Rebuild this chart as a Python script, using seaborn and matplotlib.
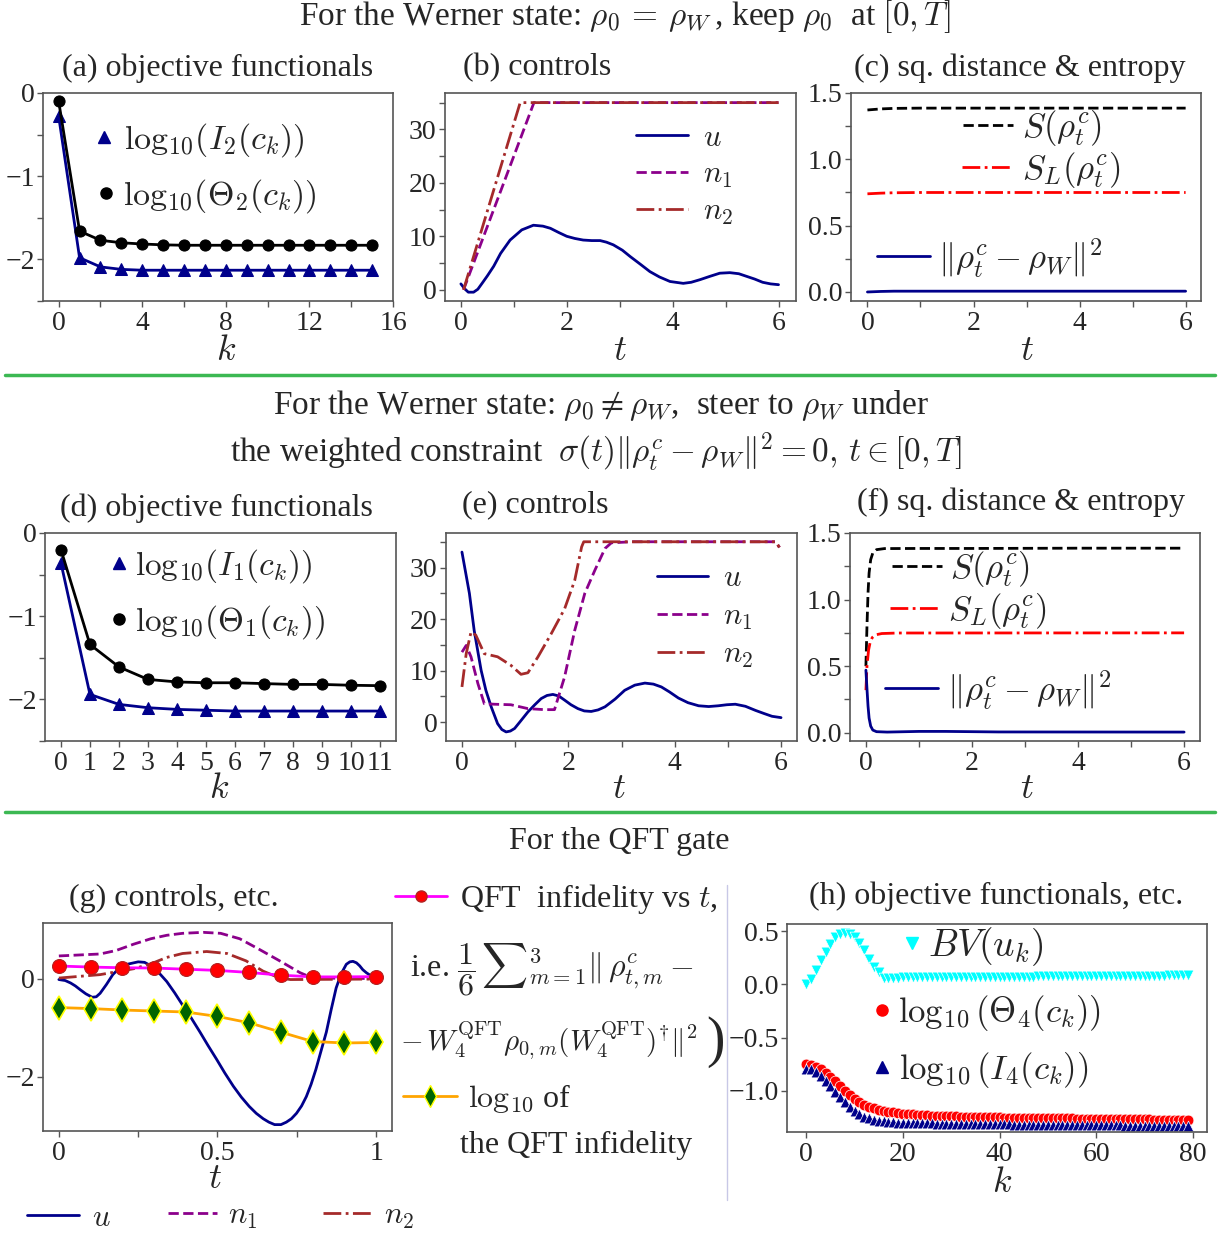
import numpy as np
import pandas as pd
import matplotlib
matplotlib.use('Agg')
import matplotlib.pyplot as plt
import seaborn as sns
from matplotlib.lines import Line2D
from matplotlib.legend import Legend
from matplotlib.ticker import FixedLocator

# ---------------- data ----------------
# (a)
k_a = list(range(16))
I2_a = [-0.28, -1.98, -2.09, -2.12, -2.13, -2.13, -2.13, -2.13, -2.13, -2.13, -2.13, -2.13, -2.13, -2.13, -2.13, -2.13]
Th2_a = [-0.10, -1.66, -1.77, -1.80, -1.815, -1.825, -1.83, -1.83, -1.83, -1.83, -1.83, -1.83, -1.83, -1.83, -1.83, -1.83]
# (b)
t_b_u = [0, 0.07, 0.14, 0.24, 0.32, 0.4, 0.5, 0.62, 0.75, 0.93, 1.15, 1.37, 1.55, 1.69, 1.85, 2.0, 2.15, 2.31, 2.47, 2.63, 2.75, 2.88, 3.05, 3.2, 3.4, 3.57, 3.75, 3.95, 4.2, 4.35, 4.52, 4.7, 4.89, 5.08, 5.25, 5.4, 5.55, 5.7, 5.85, 6.0]
u_b = [1.1, 0.2, -0.45, -0.45, 0.1, 1.2, 2.6, 4.4, 6.8, 9.3, 11.2, 12.07, 11.9, 11.5, 10.7, 10.0, 9.6, 9.3, 9.2, 9.2, 8.9, 8.4, 7.4, 6.2, 4.7, 3.4, 2.4, 1.55, 1.2, 1.4, 1.9, 2.5, 3.1, 3.2, 3.0, 2.5, 2.0, 1.4, 1.1, 0.95]
t_b_n1 = [0.05, 1.38, 6.0]
n1_b = [0.0, 35.0, 35.0]
t_b_n2 = [0.05, 1.12, 6.0]
n2_b = [0.0, 35.0, 35.0]
# (c)
t_c = [0, 0.25, 0.5, 1, 2, 3, 4, 5, 6]
S_c = [1.372, 1.38, 1.384, 1.386, 1.386, 1.386, 1.386, 1.386, 1.386]
SL_c = [0.74, 0.745, 0.748, 0.75, 0.75, 0.75, 0.75, 0.75, 0.75]
D_c = [0.0, 0.004, 0.006, 0.006, 0.006, 0.006, 0.006, 0.006, 0.006]
# (d)
k_d = list(range(12))
I1_d = [-0.36, -1.94, -2.06, -2.10, -2.12, -2.13, -2.14, -2.14, -2.14, -2.14, -2.14, -2.14]
Th1_d = [-0.20, -1.34, -1.61, -1.76, -1.79, -1.80, -1.80, -1.81, -1.82, -1.82, -1.83, -1.835]
# (e)
t_e_u = [0, 0.07, 0.14, 0.23, 0.36, 0.45, 0.55, 0.67, 0.75, 0.83, 0.91, 0.99, 1.1, 1.24, 1.37, 1.49, 1.6, 1.71, 1.82, 1.93, 2.05, 2.18, 2.3, 2.43, 2.56, 2.69, 2.88, 3.06, 3.25, 3.44, 3.6, 3.75, 3.9, 4.07, 4.25, 4.45, 4.64, 4.82, 4.98, 5.14, 5.33, 5.52, 5.68, 5.83, 6.0]
u_e = [33.0, 29.0, 25.0, 17.8, 10.1, 6.2, 3.0, -0.26, -1.4, -1.87, -1.7, -1.2, 0.2, 2.0, 3.4, 4.6, 5.2, 5.4, 5.1, 4.3, 3.4, 2.65, 2.2, 2.1, 2.4, 3.0, 4.5, 6.2, 7.2, 7.6, 7.4, 6.85, 5.9, 4.7, 3.8, 3.2, 3.05, 3.2, 3.4, 3.5, 3.1, 2.3, 1.7, 1.16, 0.9]
t_e_n1 = [0, 0.08, 0.17, 0.3, 0.42, 0.61, 0.92, 1.24, 1.55, 1.74, 1.93, 2.12, 2.31, 2.5, 2.69, 2.81, 3.2, 5.9, 5.97]
n1_e = [13.6, 14.9, 12.7, 7.5, 3.6, 3.5, 3.4, 2.65, 2.45, 2.45, 8.8, 17.8, 25.0, 29.5, 33.7, 34.8, 35.0, 35.0, 33.9]
t_e_n2 = [0, 0.08, 0.17, 0.26, 0.42, 0.67, 0.92, 1.11, 1.24, 1.43, 1.68, 1.93, 2.12, 2.25, 2.29, 5.9, 5.97]
n2_e = [6.85, 13.3, 17.5, 16.9, 13.3, 12.7, 11.05, 9.3, 9.6, 12.7, 17.2, 22.0, 27.5, 34.0, 35.0, 35.0, 33.9]
# (f)
t_f_S = [0, 0.02, 0.04, 0.06, 0.09, 0.13, 0.2, 0.35, 1.0, 2.0, 4.0, 6.0]
S_f = [0.50, 0.80, 1.05, 1.20, 1.30, 1.35, 1.375, 1.383, 1.384, 1.384, 1.386, 1.386]
t_f_SL = [0, 0.02, 0.05, 0.08, 0.12, 0.18, 0.3, 0.6, 6.0]
SL_f = [0.32, 0.50, 0.62, 0.68, 0.715, 0.735, 0.745, 0.749, 0.75]
t_f_D = [0, 0.02, 0.04, 0.06, 0.09, 0.13, 0.2, 0.4, 1.0, 1.5, 2.5, 6.0]
D_f = [0.47, 0.33, 0.20, 0.11, 0.05, 0.02, 0.008, 0.005, 0.01, 0.01, 0.006, 0.005]
# (g)
t_g_u = [0, 0.02, 0.037, 0.052, 0.068, 0.085, 0.105, 0.118, 0.13, 0.15, 0.17, 0.19, 0.215, 0.25, 0.27, 0.29, 0.315, 0.34, 0.365, 0.39, 0.418, 0.445, 0.47, 0.497, 0.523, 0.55, 0.575, 0.6, 0.622, 0.644, 0.662, 0.68, 0.7, 0.717, 0.733, 0.749, 0.765, 0.78, 0.795, 0.81, 0.826, 0.843, 0.858, 0.874, 0.89, 0.906, 0.917, 0.927, 0.938, 0.948, 0.958, 0.969, 0.985, 1.0]
u_g = [-0.02, -0.04, -0.09, -0.15, -0.23, -0.31, -0.38, -0.37, -0.30, -0.12, 0.08, 0.21, 0.29, 0.34, 0.33, 0.26, 0.12, -0.06, -0.29, -0.54, -0.81, -1.09, -1.36, -1.64, -1.92, -2.19, -2.41, -2.60, -2.74, -2.85, -2.92, -2.97, -2.97, -2.92, -2.85, -2.74, -2.59, -2.40, -2.15, -1.85, -1.48, -1.09, -0.64, -0.19, 0.10, 0.29, 0.34, 0.35, 0.32, 0.26, 0.18, 0.12, 0.05, 0.01]
t_g_n1 = [0, 0.13, 0.18, 0.236, 0.29, 0.34, 0.39, 0.455, 0.51, 0.57, 0.63, 0.696, 0.76, 0.8, 1.0]
n1_g = [0.46, 0.50, 0.57, 0.70, 0.81, 0.88, 0.92, 0.94, 0.92, 0.81, 0.60, 0.36, 0.12, 0.01, 0.0]
t_g_n2 = [0, 0.13, 0.236, 0.29, 0.34, 0.39, 0.466, 0.53, 0.59, 0.644, 0.696, 0.73, 1.0]
n2_g = [0.01, 0.08, 0.20, 0.30, 0.43, 0.51, 0.55, 0.51, 0.36, 0.15, 0.01, -0.02, -0.01]
t_g_q = [0, 0.1, 0.2, 0.3, 0.4, 0.5, 0.6, 0.7, 0.8, 0.9, 1.0]
infid_g = [0.255, 0.234, 0.22, 0.214, 0.19, 0.166, 0.124, 0.069, 0.034, 0.034, 0.04]
loginf_g = [-0.59, -0.61, -0.64, -0.66, -0.68, -0.77, -0.90, -1.09, -1.28, -1.31, -1.30]
# (h)
k_h = list(range(80))
BV_h = [0.0, 0.053, 0.131, 0.225, 0.303, 0.381, 0.443, 0.474, 0.484, 0.474, 0.443, 0.387, 0.318, 0.24, 0.162, 0.115, 0.062,
        0.062, 0.063, 0.063, 0.064, 0.064, 0.065, 0.065, 0.066, 0.066, 0.066, 0.067, 0.067, 0.067, 0.068, 0.068, 0.068, 0.069,
        0.069, 0.069, 0.070, 0.070, 0.070, 0.071, 0.071, 0.071, 0.072, 0.072, 0.072, 0.073, 0.073, 0.073, 0.074, 0.074, 0.074,
        0.075, 0.075, 0.075, 0.076, 0.076, 0.076, 0.077, 0.077, 0.077, 0.078, 0.078, 0.078, 0.079, 0.079, 0.079, 0.080, 0.080,
        0.080, 0.081, 0.081, 0.081, 0.082, 0.082, 0.082, 0.083, 0.083, 0.083, 0.084, 0.084]
Th4_h = [-0.75, -0.76, -0.775, -0.80, -0.83, -0.87, -0.91, -0.955, -1.0, -1.04, -1.075, -1.105, -1.13, -1.15, -1.165, -1.178,
         -1.188, -1.196, -1.203, -1.209, -1.214, -1.218, -1.222, -1.225, -1.228, -1.231, -1.233, -1.235, -1.237, -1.239, -1.240,
         -1.241, -1.242, -1.243, -1.244, -1.245, -1.246, -1.247, -1.248, -1.249, -1.250, -1.251, -1.251, -1.252, -1.253, -1.253,
         -1.254, -1.255, -1.256, -1.256, -1.257, -1.258, -1.258, -1.259, -1.259, -1.260, -1.261, -1.261, -1.262, -1.262, -1.263,
         -1.264, -1.264, -1.265, -1.265, -1.266, -1.266, -1.267, -1.268, -1.268, -1.269, -1.269, -1.270, -1.271, -1.271, -1.272,
         -1.272, -1.273, -1.273, -1.274]
I4_h = [-0.795, -0.80, -0.825, -0.86, -0.905, -0.955, -1.01, -1.06, -1.11, -1.155, -1.19, -1.22, -1.243, -1.26, -1.272, -1.281,
        -1.287, -1.292, -1.296, -1.299, -1.301, -1.302, -1.303, -1.304, -1.305, -1.306, -1.307, -1.308, -1.309, -1.309, -1.310,
        -1.311, -1.311, -1.312, -1.312, -1.313, -1.314, -1.314, -1.315, -1.315, -1.316, -1.316, -1.316, -1.317, -1.317, -1.318,
        -1.318, -1.319, -1.319, -1.319, -1.320, -1.320, -1.321, -1.321, -1.321, -1.322, -1.322, -1.322, -1.323, -1.323, -1.324,
        -1.324, -1.324, -1.325, -1.325, -1.325, -1.326, -1.326, -1.326, -1.327, -1.327, -1.327, -1.328, -1.328, -1.328, -1.329,
        -1.329, -1.329, -1.330, -1.330]

# ---------------- style ----------------
sns.set_style('ticks')
plt.rcParams['font.family'] = ['Liberation Serif', 'DejaVu Serif']
plt.rcParams['mathtext.fontset'] = 'cm'

W, H = 1227, 1235
fig = plt.figure(figsize=(W / 100, H / 100), dpi=100)
NAVY = '#00008B'
PURPLE = '#8B008B'
BROWN = '#A52A2A'
SPINE = '#555555'
TFS = 20
LFS = 22
MFS = 25
PFS = 23
RFS = 24


def axes_px(x0, y0, x1, y1):
    return fig.add_axes([x0 / W, 1 - y1 / H, (x1 - x0) / W, (y1 - y0) / H])


def style(ax, xmaj, xmin, ymaj, ymin, xlim, ylim, xlabels=None):
    for s in ax.spines.values():
        s.set_color(SPINE)
        s.set_linewidth(1.2)
    ax.set_xlim(*xlim)
    ax.set_ylim(*ylim)
    ax.xaxis.set_major_locator(FixedLocator(xmaj))
    ax.yaxis.set_major_locator(FixedLocator(ymaj))
    if xmin:
        ax.xaxis.set_minor_locator(FixedLocator(xmin))
    if ymin:
        ax.yaxis.set_minor_locator(FixedLocator(ymin))
    if xlabels is not None:
        ax.set_xticklabels(xlabels)
    ax.tick_params(which='both', length=4.5, width=1, color=SPINE, labelsize=TFS)
    ax.tick_params(axis='y', which='both', pad=1.5)
    ax.tick_params(axis='x', which='both', pad=3)
    ax.set_xlabel('')
    ax.set_ylabel('')


def rowleg(handle, label, x0, x1, xt, yc, fs=LFS):
    fpx = fs * 100 / 72
    lg = Legend(fig, [handle], [label], loc='center left',
                bbox_to_anchor=(x0 / W, 1 - yc / H), bbox_transform=fig.transFigure,
                frameon=False, fontsize=fs, handlelength=(x1 - x0) / fpx,
                handletextpad=(xt - x1) / fpx, borderpad=0, borderaxespad=0,
                numpoints=1)
    fig.legends.append(lg)


def ftext(x, y, s, fs=20, ha='center', **kw):
    fig.text(x / W, 1 - y / H, s, fontsize=fs, ha=ha, va='center', **kw)


def line(ax, x, y, **kw):
    sns.lineplot(x=x, y=y, ax=ax, estimator=None, sort=False, **kw)


def H_(color, ls='-', lw=2, **kw):
    return Line2D([], [], color=color, ls=ls, lw=lw, **kw)


LOG = r'\mathrm{log}_{10}'

# ---------------- row 1 ----------------
ftext(625, 17, r"For the Werner state: $\rho_0\,=\,\rho_W\,$, keep $\rho_0$  at $[0,T]$", fs=RFS)

axa = axes_px(43, 93, 393, 301)
line(axa, k_a, I2_a, color=NAVY, lw=2, marker='^', markersize=8, markeredgecolor=NAVY, markerfacecolor=NAVY)
line(axa, k_a, Th2_a, color='black', lw=2, marker='o', markersize=8, markeredgecolor='black', markerfacecolor='black')
style(axa, [0, 4, 8, 12, 16], [2, 6, 10, 14], [0, -1, -2], [-0.5, -1.5, -2.5], (-0.75, 16), (-2.5, 0))
ftext(218, 68, '(a) objective functionals', fs=PFS)
ftext(226, 352, '$k$', fs=26)
rowleg(H_(NAVY, ls='none', marker='^', ms=8), '$' + LOG + r'(I_2(c_k))$', 96, 112, 124, 140, fs=24.5)
rowleg(H_('black', ls='none', marker='o', ms=8), '$' + LOG + r'(\Theta_2(c_k))$', 98, 114, 123, 196, fs=24.5)

axb = axes_px(445, 93, 796, 301)
line(axb, t_b_u, u_b, color=NAVY, lw=2)
line(axb, t_b_n1, n1_b, color=PURPLE, lw=2, linestyle='--')
line(axb, t_b_n2, n2_b, color=BROWN, lw=2, linestyle='-.')
style(axb, [0, 2, 4, 6], [1, 3, 5], [0, 10, 20, 30], [5, 15, 25, 35], (-0.3, 6.33), (-2.1, 36.8))
ftext(537, 68, '(b) controls', fs=PFS)
ftext(620, 352, '$t$', fs=26)
rowleg(H_(NAVY), '$u$', 636, 688, 703, 138)
rowleg(H_(PURPLE, '--'), '$n_1$', 636, 688, 703, 175)
rowleg(H_(BROWN, '-.'), '$n_2$', 636, 688, 703, 212)

axc = axes_px(851, 93, 1201, 301)
line(axc, t_c, S_c, color='black', lw=2, linestyle='--')
line(axc, t_c, SL_c, color='red', lw=2, linestyle='-.')
line(axc, t_c, D_c, color=NAVY, lw=2)
style(axc, [0, 2, 4, 6], [1, 3, 5], [0, 0.5, 1.0, 1.5], [0.25, 0.75, 1.25], (-0.31, 6.29), (-0.068, 1.5))
axc.set_yticklabels(['0.0', '0.5', '1.0', '1.5'])
ftext(1020, 68, '(c) sq. distance & entropy', fs=PFS)
ftext(1027, 352, '$t$', fs=26)
rowleg(H_('black', '--'), r'$S(\rho_t^c)$', 963, 1013, 1022, 128, fs=MFS)
rowleg(H_('red', '-.'), r'$S_L(\rho_t^c)$', 962, 1012, 1022, 170, fs=MFS)
rowleg(H_(NAVY), r'$\|\rho_t^c-\rho_W\|^2$', 877, 930, 938, 258, fs=MFS)

fig.add_artist(Line2D([5 / W, 1215 / W], [1 - 375 / H] * 2, transform=fig.transFigure, color='#3cb853', lw=2.5))

# ---------------- row 2 ----------------
ftext(601, 406, r"For the Werner state: $\rho_0\neq\rho_W$,  steer to $\rho_W$ under", fs=RFS)
ftext(596, 452, r"the weighted constraint  $\sigma(t)\|\rho_t^c-\rho_W\|^2=0,\,t\in[0,T]$", fs=RFS)

axd = axes_px(45, 533, 396, 741)
line(axd, k_d, I1_d, color=NAVY, lw=2, marker='^', markersize=8, markeredgecolor=NAVY, markerfacecolor=NAVY)
line(axd, k_d, Th1_d, color='black', lw=2, marker='o', markersize=8, markeredgecolor='black', markerfacecolor='black')
style(axd, list(range(12)), None, [0, -1, -2], [-0.5, -1.5, -2.5], (-0.55, 11.55), (-2.5, 0))
ftext(216, 508, '(d) objective functionals', fs=PFS)
ftext(219, 790, '$k$', fs=26)
rowleg(H_(NAVY, ls='none', marker='^', ms=8), '$' + LOG + r'(I_1(c_k))$', 111, 127, 135, 566, fs=24)
rowleg(H_('black', ls='none', marker='o', ms=8), '$' + LOG + r'(\Theta_1(c_k))$', 111, 127, 135, 622, fs=24)

axe = axes_px(446, 533, 797, 741)
line(axe, t_e_u, u_e, color=NAVY, lw=2)
line(axe, t_e_n1, n1_e, color=PURPLE, lw=2, linestyle='--')
line(axe, t_e_n2, n2_e, color=BROWN, lw=2, linestyle='-.')
style(axe, [0, 2, 4, 6], [1, 3, 5], [0, 10, 20, 30], [5, 15, 25, 35], (-0.3, 6.3), (-3.63, 36.7))
ftext(535, 505, '(e) controls', fs=PFS)
ftext(619, 790, '$t$', fs=26)
rowleg(H_(NAVY), '$u$', 657, 708, 723, 579)
rowleg(H_(PURPLE, '--'), '$n_1$', 657, 708, 723, 617)
rowleg(H_(BROWN, '-.'), '$n_2$', 657, 708, 723, 655)

axf = axes_px(850, 533, 1200, 741)
line(axf, t_f_S, S_f, color='black', lw=2, linestyle='--')
line(axf, t_f_SL, SL_f, color='red', lw=2, linestyle='-.')
line(axf, t_f_D, D_f, color=NAVY, lw=2)
style(axf, [0, 2, 4, 6], [1, 3, 5], [0, 0.5, 1.0, 1.5], [0.25, 0.75, 1.25], (-0.3, 6.3), (-0.062, 1.5))
axf.set_yticklabels(['0.0', '0.5', '1.0', '1.5'])
ftext(1021, 502, '(f) sq. distance & entropy', fs=PFS)
ftext(1027, 790, '$t$', fs=26)
rowleg(H_('black', '--'), r'$S(\rho_t^c)$', 892, 942, 950, 569, fs=MFS)
rowleg(H_('red', '-.'), r'$S_L(\rho_t^c)$', 890, 940, 948, 611, fs=MFS)
rowleg(H_(NAVY), r'$\|\rho_t^c-\rho_W\|^2$', 885, 938, 947, 690, fs=MFS)

fig.add_artist(Line2D([5 / W, 1215 / W], [1 - 812 / H] * 2, transform=fig.transFigure, color='#3cb853', lw=2.5))

# ---------------- row 3 ----------------
ftext(619, 842, 'For the QFT gate', fs=23)

axg = axes_px(43, 923, 392, 1131)
line(axg, t_g_u, u_g, color=NAVY, lw=2)
line(axg, t_g_n1, n1_g, color=PURPLE, lw=2, linestyle='--')
line(axg, t_g_n2, n2_g, color=BROWN, lw=2, linestyle='-.')
line(axg, t_g_q, infid_g, color='#FF00FF', lw=2, marker='o', markersize=10, markerfacecolor='red', markeredgecolor='#b22222', markeredgewidth=0.8)
line(axg, t_g_q, loginf_g, color='orange', lw=2, marker='d', markersize=12, markerfacecolor='#006400', markeredgecolor='yellow', markeredgewidth=1.2)
style(axg, [0, 0.5, 1], [0.25, 0.75], [0, -2], None, (-0.05, 1.05), (-3.1, 1.13), xlabels=['0', '0.5', '1'])
ftext(174, 898, '(g) controls, etc.', fs=PFS)
ftext(215, 1180, '$t$', fs=26)
rowleg(H_(NAVY), '$u$', 27, 79, 92, 1218)
rowleg(H_(PURPLE, '--'), '$n_1$', 168, 217, 228, 1216)
rowleg(H_(BROWN, '-.'), '$n_2$', 323, 372, 384, 1216)

rowleg(H_('#FF00FF', marker='o', ms=8, mfc='red', mec='#b22222'), r'QFT  infidelity vs $t$,', 395, 447, 460, 899, fs=23)
ftext(410, 970, r'i.e. $\dfrac{1}{6}\,{\sum}_{m=1}^{3}\|\,\rho_{t,m}^{c}-$', fs=23, ha='left')
ftext(400, 1040, r'$-\,W_4^{\mathrm{QFT}}\rho_{0,m}(W_4^{\mathrm{QFT}})^{\dagger}\|^2$', fs=21, ha='left')
ftext(706, 1042, ')', fs=40, ha='left', fontweight='light')
rowleg(H_('orange', marker='d', ms=11, mfc='#006400', mec='yellow'), r'$\mathrm{log}_{10}$ of', 403, 457, 468, 1099, fs=23)
ftext(460, 1145, 'the QFT infidelity', fs=23, ha='left')

fig.add_artist(Line2D([727 / W, 727 / W], [1 - 885 / H, 1 - 1200 / H], transform=fig.transFigure, color='#c8c8e6', lw=1))

axh = axes_px(787, 924, 1207, 1132)
sns.scatterplot(x=k_h, y=BV_h, ax=axh, marker='v', color='cyan', s=60, edgecolor='white', linewidth=0.5)
sns.scatterplot(x=k_h, y=Th4_h, ax=axh, marker='o', color='red', s=60, edgecolor='white', linewidth=0.5)
sns.scatterplot(x=k_h, y=I4_h, ax=axh, marker='^', color=NAVY, s=60, edgecolor='white', linewidth=0.5)
style(axh, [0, 20, 40, 60, 80], None, [0.5, 0.0, -0.5, -1.0], None, (-4, 82.9), (-1.387, 0.566))
axh.set_yticklabels(['0.5', '0.0', '\u22120.5', '\u22121.0'])
ftext(996, 896, '(h) objective functionals, etc.', fs=PFS)
ftext(1002, 1183, '$k$', fs=26)
rowleg(H_('cyan', ls='none', marker='v', ms=9), r'$BV(u_k)$', 904, 920, 928, 947, fs=27)
rowleg(H_('red', ls='none', marker='o', ms=8), '$' + LOG + r'\,\left(\Theta_4(c_k)\right)$', 874, 890, 898, 1013, fs=MFS)
rowleg(H_(NAVY, ls='none', marker='^', ms=8), '$' + LOG + r'\,\left(I_4(c_k)\right)$', 874, 890, 899, 1070, fs=MFS)

fig.savefig('out.png', dpi=100)
